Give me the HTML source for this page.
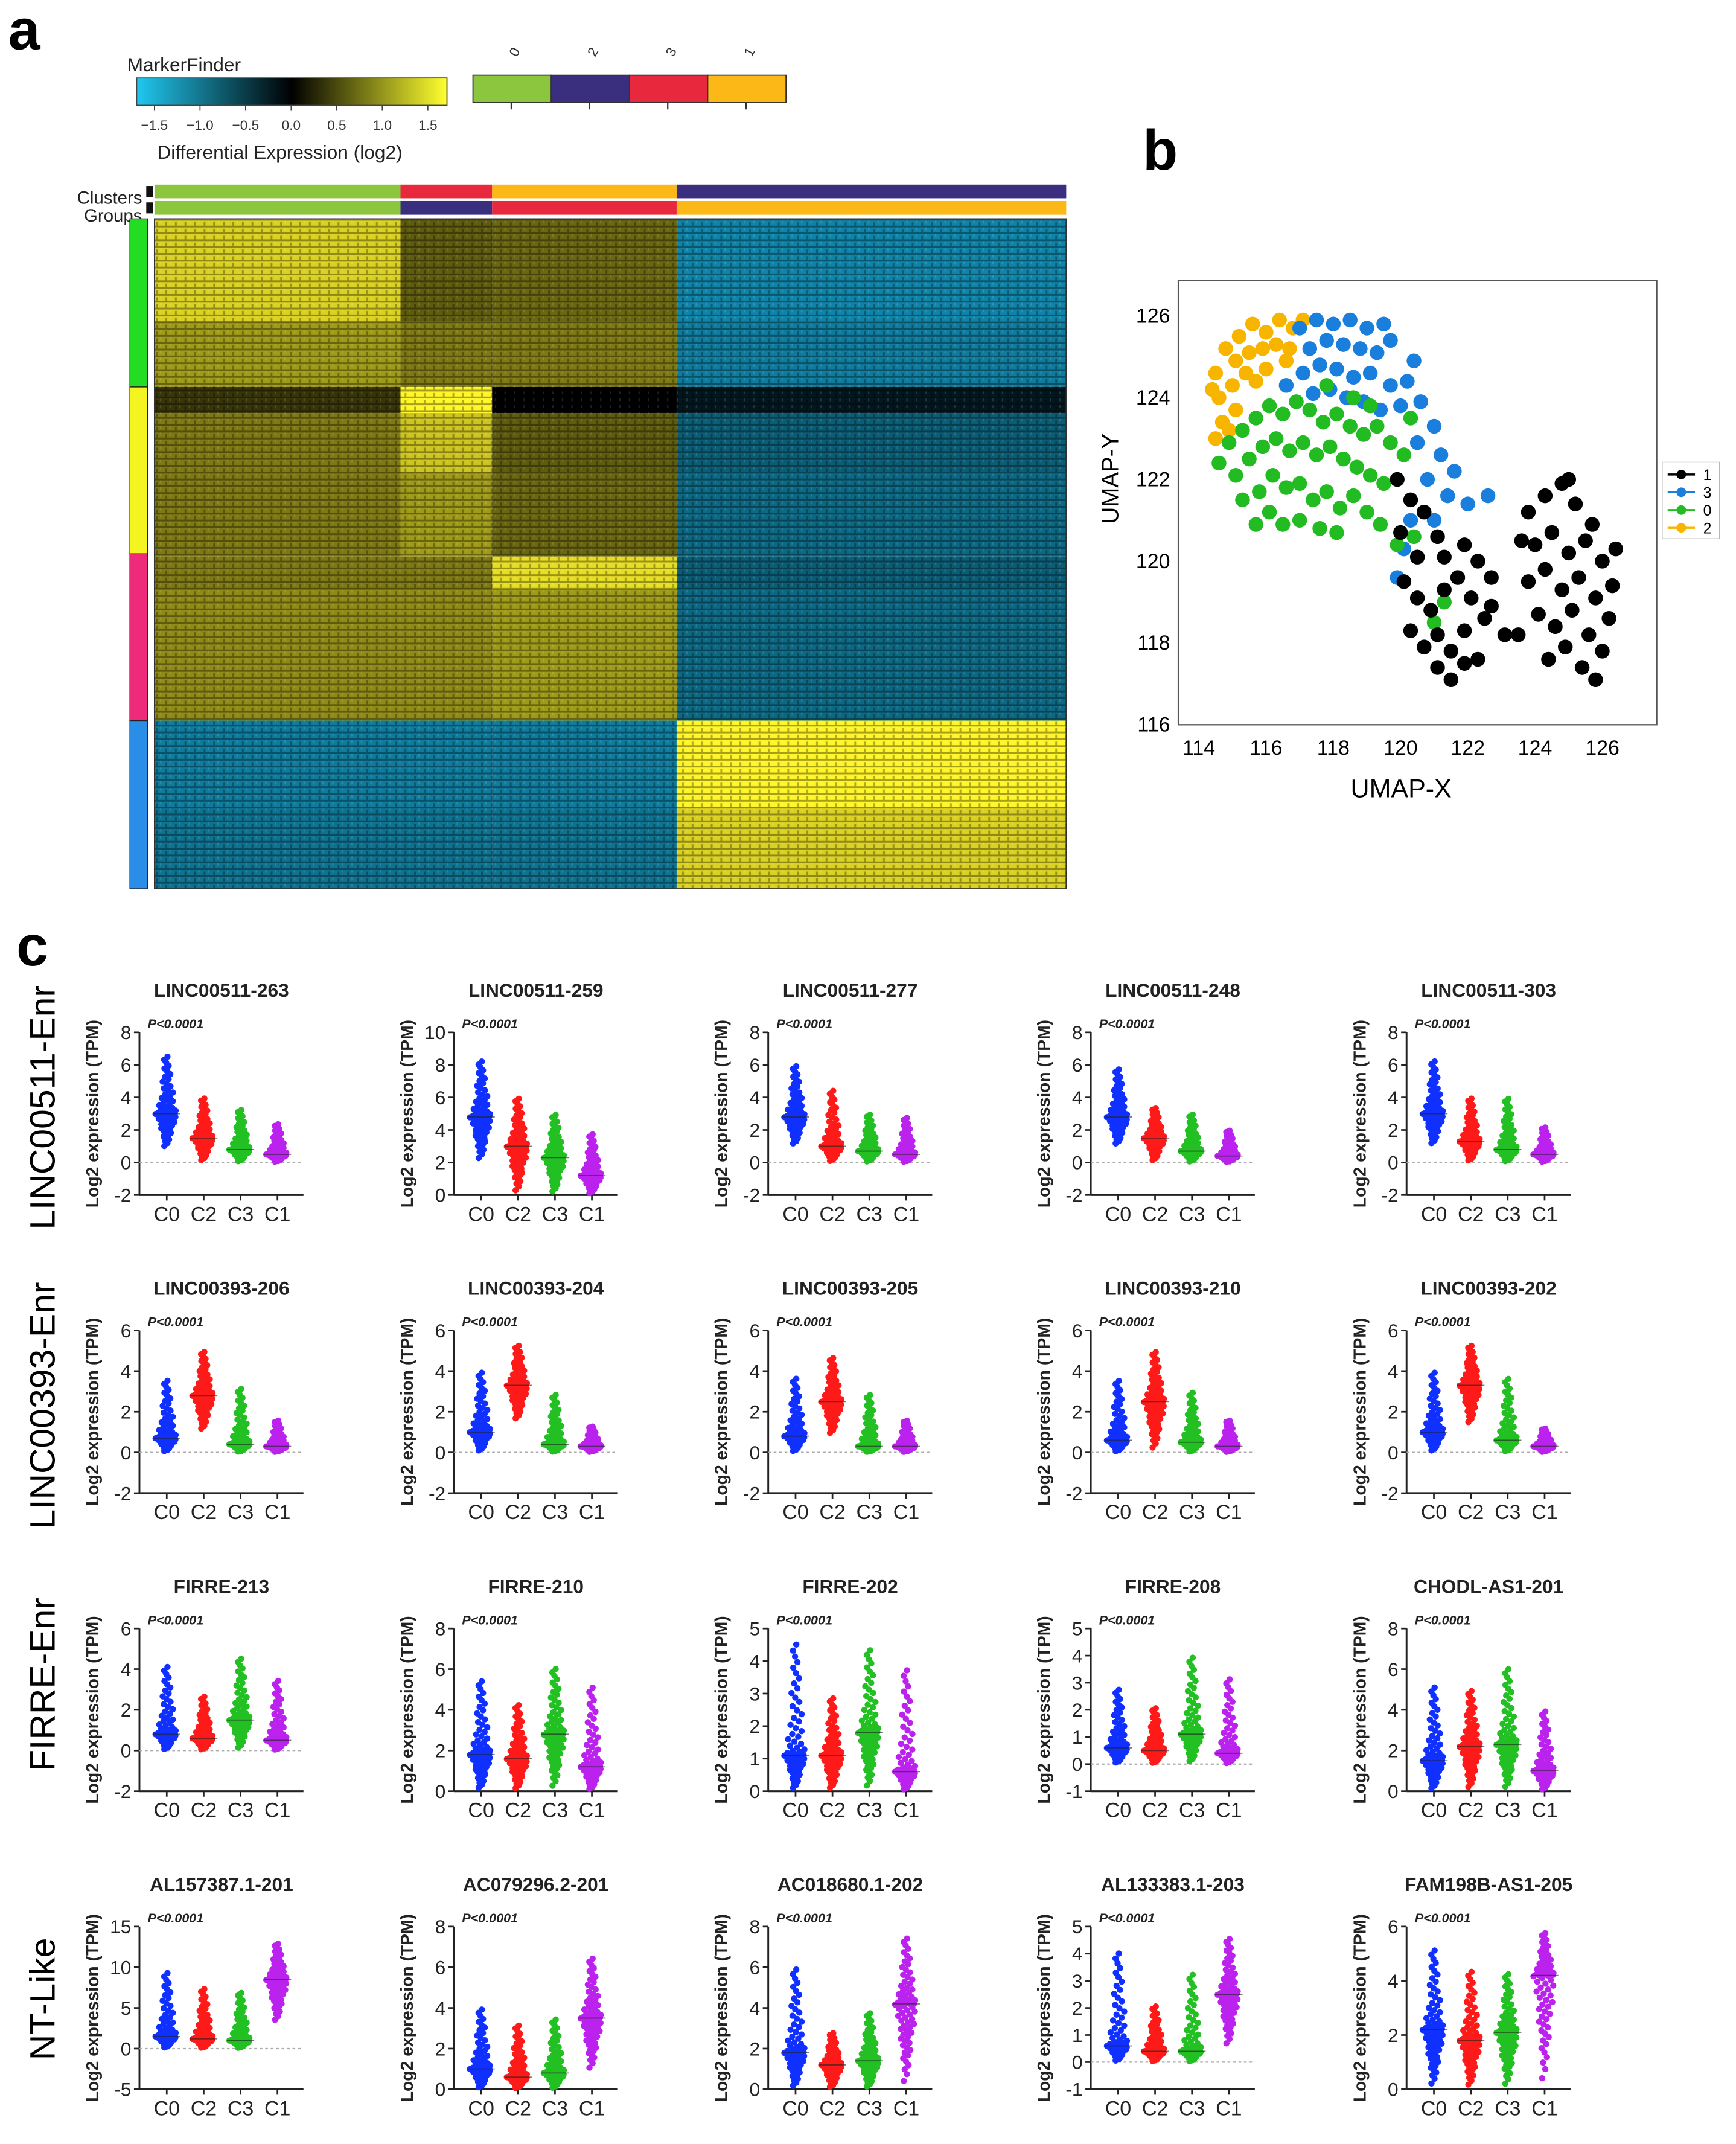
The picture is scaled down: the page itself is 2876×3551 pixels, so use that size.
<!DOCTYPE html>
<html><head><meta charset="utf-8"><style>
html,body{margin:0;padding:0;background:#fff;}
svg{display:block;font-family:"Liberation Sans",sans-serif;}
.nar{font-family:"Liberation Sans Narrow","Liberation Sans",sans-serif;}
</style></head><body>
<svg id="fig" xmlns="http://www.w3.org/2000/svg" width="2876" height="3551" viewBox="0 0 1270 1568">
<defs>
<pattern id="tex" width="7" height="5" patternUnits="userSpaceOnUse">
<rect x="0" y="0" width="7" height="1.3" fill="#000" opacity="0.35"/>
<rect x="2" y="2.4" width="1.3" height="2.6" fill="#000" opacity="0.3"/>
<rect x="5" y="1.3" width="1" height="2" fill="#fff" opacity="0.12"/>
</pattern>
<linearGradient id="cbar" x1="0" x2="1" y1="0" y2="0">
<stop offset="0" stop-color="#20c8f0"/><stop offset="0.5" stop-color="#000"/><stop offset="1" stop-color="#ffff30"/>
</linearGradient>
</defs>
<g id="root"></g>
</svg>
<script>
// ---------- heatmap data ----------
const hmRowEdges=[160,235,283,302,345,407,431,527,590,650];
const hmColEdges=[113,293,360,495,780];
const hmValues=[
[1.0,0.25,0.3,-0.9],
[0.6,0.4,0.4,-0.8],
[0.1,1.5,0.0,-0.05],
[0.4,0.9,0.25,-0.5],
[0.4,0.6,0.3,-0.6],
[0.4,0.4,1.1,-0.5],
[0.5,0.5,0.6,-0.6],
[-0.8,-0.8,-0.8,1.3],
[-0.7,-0.7,-0.7,1.0]];
// ---------- UMAP data ----------
const umap2=[[114.5,124.6],[114.8,125.2],[115.2,125.5],[115.6,125.8],[116,125.6],[116.4,125.9],[116.8,125.7],[115.1,124.9],[115.5,125.1],[115.9,125.2],[116.3,125.3],[114.6,124],[115,124.3],[115.4,124.6],[114.7,123.4],[115.1,123.7],[114.5,123],[114.9,123.2],[116.7,125.2],[116,124.7],[117.1,125.9],[115.7,124.4],[114.4,124.2],[116.6,124.9]];
const umap3=[[117,125.7],[117.5,125.9],[118,125.8],[118.5,125.9],[119,125.7],[119.5,125.8],[117.3,125.2],[117.8,125.4],[118.3,125.3],[118.8,125.2],[119.3,125.1],[117.1,124.6],[117.6,124.8],[118.1,124.7],[118.6,124.5],[119.1,124.6],[119.7,124.3],[120.2,124.4],[117.4,124.1],[117.9,124.2],[118.4,124],[118.9,123.9],[119.4,123.7],[120,123.8],[120.6,123.9],[121,123.3],[120.5,122.9],[121.2,122.6],[121.6,122.2],[120.8,122],[121.4,121.6],[122,121.4],[122.6,121.6],[120.3,121],[120.1,120.3],[119.9,119.6],[121,121],[119.7,125.4],[120.4,124.9],[116.6,124.3]];
const umap0=[[114.6,122.4],[114.9,122.9],[115.3,123.2],[115.7,123.5],[116.1,123.8],[116.5,123.6],[116.9,123.9],[117.3,123.7],[117.7,123.4],[118.1,123.6],[118.5,123.3],[118.9,123.1],[119.3,123.3],[119.7,122.9],[120.1,122.6],[115.1,122.1],[115.5,122.5],[115.9,122.8],[116.3,123],[116.7,122.7],[117.1,122.9],[117.5,122.6],[117.9,122.8],[118.3,122.5],[118.7,122.3],[119.1,122.1],[119.5,121.9],[115.3,121.5],[115.8,121.7],[116.2,122.1],[116.6,121.8],[117,121.9],[117.4,121.5],[117.8,121.7],[118.2,121.3],[118.6,121.6],[119,121.2],[115.7,120.9],[116.1,121.2],[116.5,120.9],[117,121],[117.6,120.8],[118.1,120.7],[119.4,120.9],[119.9,120.4],[120.4,120.6],[121.3,119],[121,118.5],[119.1,123.8],[120.3,123.5],[118.6,124],[117.8,124.3]];
const umap1=[[119.9,122],[120.3,121.5],[120.7,121.2],[121.1,120.6],[120.1,119.5],[120.5,119.1],[120.9,118.8],[121.3,119.3],[121.7,119.6],[122.1,119.1],[122.5,118.6],[121.1,118.2],[121.5,117.8],[121.9,118.3],[122.3,117.6],[122.7,118.9],[120.3,118.3],[120.7,117.9],[121.1,117.4],[121.5,117.1],[121.9,117.5],[122.3,120],[121.9,120.4],[122.7,119.6],[123.1,118.2],[120,120.7],[120.5,120.1],[121.3,120.1],
[123.8,121.2],[124.3,121.6],[124.8,121.9],[125.2,121.4],[125.7,120.9],[124,120.4],[124.5,120.7],[125,120.2],[125.5,120.5],[126,120],[126.3,119.4],[123.8,119.5],[124.3,119.8],[124.8,119.3],[125.3,119.6],[125.8,119.1],[126.2,118.6],[124.1,118.7],[124.6,118.4],[125.1,118.8],[125.6,118.2],[126,117.8],[124.4,117.6],[124.9,117.9],[125.4,117.4],[125.8,117.1],[123.5,118.2],[123.6,120.5],[126.4,120.3],[125,122]];
const umapXTicks=[114,116,118,120,122,124,126];
const umapYTicks=[116,118,120,122,124,126];
// ---------- dot plot data ----------
const panelTitles=["LINC00511-263","LINC00511-259","LINC00511-277","LINC00511-248","LINC00511-303",
"LINC00393-206","LINC00393-204","LINC00393-205","LINC00393-210","LINC00393-202",
"FIRRE-213","FIRRE-210","FIRRE-202","FIRRE-208","CHODL-AS1-201",
"AL157387.1-201","AC079296.2-201","AC018680.1-202","AL133383.1-203","FAM198B-AS1-205"];
const panelYMin=[-2,0,-2,-2,-2, -2,-2,-2,-2,-2, -2,0,0,-1,0, -5,0,0,-1,0];
const panelYMax=[8,10,8,8,8, 6,6,6,6,6, 6,8,5,5,8, 15,8,8,5,6];
const panelYStep=[2,2,2,2,2, 2,2,2,2,2, 2,2,1,1,2, 5,2,2,1,2];
const categories=["C0","C2","C3","C1"];
// per panel: [median, low, high] for C0,C2,C3,C1
const groupStats=[
[[3,0.8,6.6],[1.5,0,4],[0.8,0,3.3],[0.5,0,2.4]],
[[4.8,2,8.3],[3,0,6],[2.3,0,5],[1.2,0,3.8]],
[[2.8,1,6],[1,0,4.5],[0.7,0,3],[0.5,0,2.8]],
[[2.8,1,5.8],[1.5,0,3.4],[0.7,0,3],[0.4,0,2]],
[[3,1,6.3],[1.3,0,4],[0.8,0,4],[0.5,0,2.2]],
[[0.7,0,3.6],[2.8,1,5],[0.4,0,3.2],[0.3,0,1.6]],
[[1,0,4],[3.3,1.5,5.3],[0.4,0,2.9],[0.3,0,1.3]],
[[0.8,0,3.7],[2.5,0.8,4.7],[0.3,0,2.9],[0.3,0,1.6]],
[[0.6,0,3.6],[2.5,0,5],[0.5,0,3],[0.3,0,1.6]],
[[1,0,4],[3.3,1.3,5.3],[0.6,0,3.7],[0.3,0,1.2]],
[[0.8,0,4.2],[0.6,0,2.7],[1.5,0,4.6],[0.5,0,3.5]],
[[1.8,0,5.5],[1.6,0,4.3],[2.8,0,6.1],[1.2,0,5.2]],
[[1.1,0,4.6],[1.1,0,2.9],[1.8,0,4.4],[0.6,0,3.8]],
[[0.6,0,2.8],[0.5,0,2.1],[1.1,0,4],[0.4,0,3.2]],
[[1.5,0,5.2],[2.2,0,5],[2.3,0,6.1],[1,0,4]],
[[1.5,0,9.5],[1.2,0,7.5],[1,0,7],[8.5,3,13]],
[[1,0,4],[0.6,0,3.2],[0.8,0,3.5],[3.5,0.8,6.5]],
[[1.8,0,6],[1.2,0,2.8],[1.4,0,3.8],[4.2,0,7.5]],
[[0.6,0,4.1],[0.4,0,2.1],[0.4,0,3.3],[2.5,0.5,4.6]],
[[2.2,0,5.2],[1.8,0,4.4],[2.1,0,4.3],[4.2,0,5.8]]];
const rowLabels=["LINC00511-Enr","LINC00393-Enr","FIRRE-Enr","NT-Like"];

const NS="http://www.w3.org/2000/svg";
const root=document.getElementById('root');
function mk(tag,attrs,parent){const e=document.createElementNS(NS,tag);for(const k in attrs)e.setAttribute(k,attrs[k]);(parent||root).appendChild(e);return e;}
function txt(s,attrs,parent){const e=mk('text',attrs,parent);e.textContent=s;return e;}

let el;
el=txt('a',{x:6,y:36,'font-size':42,'font-weight':'bold'});


el=txt('b',{x:836,y:124,'font-size':42,'font-weight':'bold'});


el=txt('c',{x:12,y:706,'font-size':42,'font-weight':'bold'});



// ---------- panel a ----------
const ga=mk('g',{});


el=txt('MarkerFinder',{x:93,y:52,'font-size':14,fill:'#222'},ga);


el=mk('rect',{x:100,y:57,width:227,height:20,fill:'url(#cbar)',stroke:'#444','stroke-width':0.8},ga);


const cbTicks=[-1.5,-1.0,-0.5,0.0,0.5,1.0,1.5];
cbTicks.forEach(v=>{const x=113+(v+1.5)/3*200;
 mk('line',{x1:x,x2:x,y1:77,y2:81,stroke:'#444','stroke-width':0.8},ga);
 el=txt(v<0?'\u2212'+Math.abs(v).toFixed(1):v.toFixed(1),{x:x,y:95,'font-size':10,'text-anchor':'middle',fill:'#333'},ga);
 
 
});
el=txt('Differential Expression (log2)',{x:115,y:116,'font-size':14,fill:'#222'},ga);


const clusterLegCols=['#8cc63f','#3a2f7e','#e8283c','#fbb817'];
const clusterLegLabels=['0','2','3','1'];
clusterLegCols.forEach((c,i)=>{const x=346+i*57.25;
 el=mk('rect',{x:x,y:55,width:57.25,height:20,fill:c,stroke:'#333','stroke-width':0.8},ga);
 
 
 mk('line',{x1:x+28,x2:x+28,y1:75,y2:80,stroke:'#333'},ga);
 el=txt(clusterLegLabels[i],{x:x+32,y:42,'font-size':10,transform:`rotate(-60 ${x+32} 42)`,fill:'#333'},ga);
 
 
});
el=txt('Clusters',{x:104,y:149,'font-size':13,'text-anchor':'end',fill:'#222'},ga);


el=txt('Groups',{x:104,y:162,'font-size':13,'text-anchor':'end',fill:'#222'},ga);


const clusterBarCols=['#8cc63f','#e8283c','#fbb817','#3a2f7e'];
const groupBarCols=['#8cc63f','#3a2f7e','#e8283c','#fbb817'];
for(let i=0;i<4;i++){
 el=mk('rect',{x:hmColEdges[i],y:135,width:hmColEdges[i+1]-hmColEdges[i],height:10,fill:clusterBarCols[i]},ga);
 
 
 el=mk('rect',{x:hmColEdges[i],y:147,width:hmColEdges[i+1]-hmColEdges[i],height:10,fill:groupBarCols[i]},ga);
 
 
}
mk('rect',{x:107,y:136,width:5,height:8,fill:'#111'},ga);mk('rect',{x:107,y:148,width:5,height:8,fill:'#111'},ga);
const rowBarCols=['#22dd22','#f4f420','#ee2a7b','#2a8ee8'];
const rowBarEdges=[160,283,405,527,650];
rowBarCols.forEach((c,i)=>{el=mk('rect',{x:95,y:rowBarEdges[i],width:13,height:rowBarEdges[i+1]-rowBarEdges[i],fill:c,stroke:'#222','stroke-width':0.6},ga);
 
 });
function hmColor(v){const t=Math.max(-1,Math.min(1,v/1.3));
 if(t<0){const a=Math.pow(-t,0.6);return `rgb(${Math.round(20*a)},${Math.round(165*a)},${Math.round(210*a)})`;}
 const a=Math.pow(t,0.6);return `rgb(${Math.round(255*a)},${Math.round(245*a)},${Math.round(40*a)})`;}
for(let r=0;r<hmValues.length;r++)for(let c=0;c<4;c++){
 el=mk('rect',{x:hmColEdges[c],y:hmRowEdges[r],width:hmColEdges[c+1]-hmColEdges[c],height:hmRowEdges[r+1]-hmRowEdges[r],fill:hmColor(hmValues[r][c])},ga);
 
 
}
mk('rect',{x:113,y:160,width:667,height:490,fill:'url(#tex)'},ga);
mk('rect',{x:113,y:160,width:667,height:490,fill:'none',stroke:'#333','stroke-width':0.8},ga);

// ---------- panel b ----------
const gb=mk('g',{});


const ux=v=>877+(v-114)*24.6, uy=v=>231+(126-v)*29.9;
el=mk('rect',{x:862,y:205,width:350,height:325,fill:'#fff',stroke:'#555','stroke-width':1},gb);


umapXTicks.forEach(v=>{el=txt(String(v),{x:ux(v),y:552,'font-size':15,'text-anchor':'middle'},gb);
 
 });
umapYTicks.forEach(v=>{el=txt(String(v),{x:856,y:uy(v)+5,'font-size':15,'text-anchor':'end'},gb);
 
 });
el=txt('UMAP-X',{x:1025,y:583,'font-size':19,'text-anchor':'middle'},gb);


el=txt('UMAP-Y',{x:818,y:350,'font-size':17,'text-anchor':'middle',transform:'rotate(-90 818 350)'},gb);


const umapSets=[[umap2,'#f7b500'],[umap3,'#1a7fdc'],[umap0,'#22bb22'],[umap1,'#000']];
umapSets.forEach(([pts,c])=>pts.forEach(p=>{el=mk('circle',{cx:ux(p[0]),cy:uy(p[1]),r:5.4,fill:c},gb);
 
 }));
const umapLeg=[['1','#000'],['3','#1a7fdc'],['0','#22bb22'],['2','#f7b500']];
mk('rect',{x:1216,y:338,width:42,height:56,fill:'#fff',stroke:'#aaa','stroke-width':0.6},gb);
umapLeg.forEach((l,i)=>{const y=347+i*13;
 mk('line',{x1:1220,x2:1240,y1:y,y2:y,stroke:l[1],'stroke-width':1.5},gb);
 el=mk('circle',{cx:1230,cy:y,r:3.5,fill:l[1]},gb);
 
 
 el=txt(l[0],{x:1246,y:y+4,'font-size':11},gb);
 
 });

// ---------- panel c ----------
const gc=mk('g',{});


const colAxisX=[102,332,562,798,1029];
const rowTitleY=[724,942,1160,1378];
const rowLabelY=[810,1028,1232,1462];
const groupColors=['#1030ff','#ff1a1a','#22c022','#bb22ee'];
rowLabels.forEach((s,i)=>{el=txt(s,{x:40,y:rowLabelY[i],'font-size':26,'text-anchor':'middle',transform:`rotate(-90 40 ${rowLabelY[i]})`},gc);
 
 });
for(let p=0;p<20;p++){
 const r=Math.floor(p/5),c=p%5;
 const ax=colAxisX[c], ty=rowTitleY[r], yTop=ty+31, yBot=ty+150;
 const ymin=panelYMin[p], ymax=panelYMax[p], step=panelYStep[p];
 const Y=v=>yBot-(v-ymin)/(ymax-ymin)*(yBot-yTop);
 const X=i=>ax+20+i*27;
 const g=mk('g',{},gc);
 
 
 el=txt(panelTitles[p],{x:ax+60,y:ty+5,'font-size':14,'font-weight':'bold','text-anchor':'middle',class:'nar',fill:'#222'},g);
 
 
 el=txt('P<0.0001',{x:ax+6,y:ty+28,'font-size':9.5,'font-weight':'bold','font-style':'italic',fill:'#222'},g);
 
 
 el=txt('Log2 expression (TPM)',{x:ax-30,y:(yTop+yBot)/2,'font-size':12.5,'font-weight':'bold','text-anchor':'middle',transform:`rotate(-90 ${ax-30} ${(yTop+yBot)/2})`,fill:'#222'},g);
 
 
 mk('line',{x1:ax,x2:ax,y1:yTop,y2:yBot,stroke:'#222','stroke-width':1.3},g);
 mk('line',{x1:ax,x2:ax+120,y1:yBot,y2:yBot,stroke:'#222','stroke-width':1.4},g);
 for(let v=ymin;v<=ymax+1e-9;v+=step){
  mk('line',{x1:ax-4,x2:ax,y1:Y(v),y2:Y(v),stroke:'#222','stroke-width':1.2},g);
  el=txt(String(v),{x:ax-6,y:Y(v)+5,'font-size':14,'text-anchor':'end',class:'nar',fill:'#222'},g);
  
  
 }
 if(ymin<0) mk('line',{x1:ax,x2:ax+120,y1:Y(0),y2:Y(0),stroke:'#aaa','stroke-width':1,'stroke-dasharray':'2 2'},g);
 categories.forEach((cat,i)=>{
  mk('line',{x1:X(i),x2:X(i),y1:yBot,y2:yBot+4,stroke:'#222','stroke-width':1.2},g);
  el=txt(cat,{x:X(i),y:yBot+19,'font-size':15,'text-anchor':'middle',class:'nar',fill:'#222'},g);
  
  
  const [med,lo,hi]=groupStats[p][i];
  const N=70;
  for(let k=0;k<N;k++){
   const t=(k+0.5)/N;
   const v=t<0.5? lo+(med-lo)*Math.pow(2*t,0.55) : med+(hi-med)*Math.pow(2*(t-0.5),1.9);
   const w=17*Math.max(0.12,1-Math.abs(t-0.5)*1.6);
   const jx=((k*0.618034)%1-0.5)*w;
   el=mk('circle',{cx:X(i)+jx,cy:Y(v),r:2.3,fill:groupColors[i]},g);
   
   
  }
  mk('line',{x1:X(i)-10,x2:X(i)+10,y1:Y(med),y2:Y(med),stroke:'#222','stroke-width':0.8,opacity:0.6},g);
 });
}
</script>
</body></html>
